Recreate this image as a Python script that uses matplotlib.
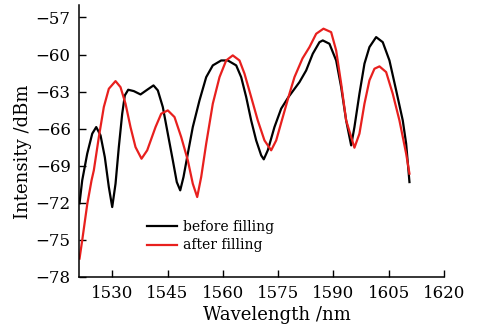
import matplotlib
matplotlib.use("Agg")
import matplotlib.pyplot as plt

# Before filling (black)
before_wl = [1521.13, 1521.86, 1523.22, 1524.58, 1525.66, 1526.83, 1527.99, 1529.08, 1530.00, 1530.90,
             1531.79, 1532.71, 1533.42, 1534.34, 1535.86, 1537.68, 1539.49, 1541.20, 1542.37, 1543.73,
             1545.08, 1546.44, 1547.52, 1548.45, 1549.34, 1550.51, 1551.86, 1553.68, 1555.50, 1557.29,
             1559.57, 1561.36, 1563.64, 1564.99, 1566.35, 1567.70, 1569.06, 1570.42, 1571.12, 1572.21,
             1574.02, 1575.84, 1577.82, 1580.81, 1582.62, 1584.41, 1586.23, 1587.13, 1588.94, 1590.76,
             1592.12, 1593.47, 1594.83, 1595.72, 1597.08, 1598.44, 1599.79, 1601.61, 1603.40, 1605.22,
             1607.04, 1608.83, 1609.75, 1610.65]
before_db = [-72.04, -70.18, -68.02, -66.40, -65.87, -66.54, -68.30, -70.72, -72.34, -70.45,
             -67.49, -64.79, -63.31, -62.85, -62.96, -63.23, -62.85, -62.50, -62.90, -64.25,
             -66.40, -68.56, -70.32, -70.99, -69.91, -68.02, -65.87, -63.71, -61.83, -60.88,
             -60.48, -60.48, -60.88, -61.83, -63.44, -65.33, -66.95, -68.16, -68.48, -67.75,
             -65.87, -64.38, -63.44, -62.23, -61.29, -59.94, -59.00, -58.86, -59.13, -60.48,
             -62.64, -65.33, -67.35, -65.87, -63.17, -60.74, -59.40, -58.59, -59.00, -60.48,
             -62.90, -65.33, -67.21, -70.32]

# After filling (red)
after_wl = [1521.13, 1521.86, 1523.22, 1524.39, 1525.01, 1526.37, 1527.72, 1529.08, 1530.90, 1532.25,
            1533.61, 1534.96, 1536.32, 1537.95, 1539.49, 1541.75, 1543.29, 1545.08, 1546.90, 1548.72,
            1550.51, 1551.86, 1553.06, 1554.14, 1555.50, 1557.29, 1559.11, 1560.92, 1562.71, 1564.53,
            1565.89, 1567.70, 1569.49, 1571.31, 1573.13, 1574.49, 1576.28, 1578.09, 1579.45, 1581.62,
            1583.52, 1585.34, 1587.32, 1589.40, 1590.76, 1592.12, 1593.47, 1595.72, 1597.08, 1598.44,
            1599.79, 1601.15, 1602.51, 1604.32, 1606.11, 1607.93, 1609.75, 1610.65]
after_db = [-76.51, -75.03, -72.12, -70.18, -69.37, -66.68, -64.25, -62.77, -62.15, -62.64,
            -63.98, -65.87, -67.49, -68.43, -67.75, -65.87, -64.79, -64.52, -65.06, -66.68,
            -68.56, -70.45, -71.53, -69.91, -67.21, -63.98, -61.83, -60.48, -60.07, -60.48,
            -61.55, -63.44, -65.33, -66.95, -67.75, -66.95, -65.06, -63.17, -61.83, -60.32,
            -59.40, -58.32, -57.91, -58.19, -59.67, -62.36, -65.33, -67.54, -66.40, -63.98,
            -62.09, -61.15, -60.96, -61.42, -63.17, -65.33, -68.02, -69.64]

x_ticks = [1530, 1545, 1560, 1575, 1590, 1605, 1620]
y_ticks = [-78, -75, -72, -69, -66, -63, -60, -57]
series_labels = ["before filling", "after filling"]

plt.rcParams['font.family'] = ['DejaVu Serif']
plt.rcParams['mathtext.fontset'] = 'dejavuserif'

fig = plt.figure(figsize=(4.82, 3.28), dpi=100)
ax = fig.add_axes([0.164, 0.1555, 0.757, 0.829])

ax.plot(before_wl, before_db, color='black', lw=1.6, label=series_labels[0])
ax.plot(after_wl, after_db, color='#e8201e', lw=1.6, label=series_labels[1])

ax.set_xlim(1521, 1620)
ax.set_ylim(-78, -56)
ax.set_xticks(x_ticks)
ax.set_yticks(y_ticks)
ax.set_yticklabels([f"\u2212{abs(v)}" for v in y_ticks])
ax.tick_params(direction='in', length=5, width=1, labelsize=12, pad=6)
for s in ['top', 'right']:
    ax.spines[s].set_visible(False)
for s in ['left', 'bottom']:
    ax.spines[s].set_linewidth(1.1)

ax.set_xlabel("Wavelength /nm", fontsize=13)
ax.xaxis.set_label_coords(0.542, -0.105)
ax.set_ylabel("Intensity /dBm", fontsize=13)
ax.yaxis.set_label_coords(-0.128, 0.46)

ax.legend(loc='lower left', bbox_to_anchor=(0.17, 0.07), frameon=False,
          fontsize=10, handlelength=2.2, handletextpad=0.45, labelspacing=0.3,
          borderaxespad=0)

fig.savefig("out.png", dpi=100)
